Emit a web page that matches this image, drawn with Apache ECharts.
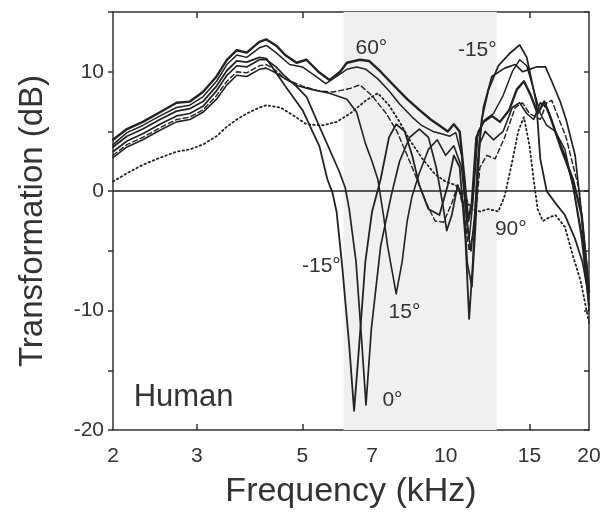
<!DOCTYPE html>
<html><head><meta charset="utf-8">
<script src="https://cdn.jsdelivr.net/npm/echarts@6/dist/echarts.min.js"></script>
<style>html,body{margin:0;padding:0;background:#fff}#c{width:611px;height:518px}</style>
</head><body><div id="c"></div>
<script>
// ---- data (frequency kHz, transformation dB) ----
const xTicks = [2, 3, 5, 7, 10, 15, 20];
const yLabelTicks = [-20, -10, 0, 10];
const shadeBand = [6.1, 12.8];

const curveM15 = [[2.0,3.7],[2.14,4.6],[2.31,5.2],[2.51,6.0],[2.72,6.7],[2.9,6.9],[3.09,7.5],[3.3,8.8],[3.47,10.1],[3.64,10.9],[3.82,10.8],[4.06,11.2],[4.2,11.1],[4.32,10.4],[4.6,8.8],[5.0,6.8],[5.43,3.75],[5.64,1.0],[5.78,-0.1],[5.9,-1.75],[6.06,-6.25],[6.27,-12.9],[6.42,-18.4],[6.58,-12.9],[6.78,-5.9],[7.0,-1.75],[7.3,1.0],[7.6,4.5],[7.87,5.6],[8.2,5.0],[8.5,3.0],[8.8,0.5],[9.2,-1.5],[9.7,-2.0],[10.1,0.5],[10.4,3.0],[10.7,2.0],[11.0,-4.0],[11.2,-10.7],[11.4,-6.0],[11.65,2.0],[11.9,6.0],[12.3,8.5],[12.9,10.5],[13.6,11.5],[14.3,12.25],[14.8,11.2],[15.2,9.0],[15.5,7.4],[15.8,2.7],[16.3,0.0],[17.0,-1.0],[17.8,-2.0],[18.7,-4.0],[19.4,-6.0],[20,-9.0]];
const curve0 = [[2.0,3.3],[2.14,4.2],[2.31,4.8],[2.51,5.6],[2.72,6.3],[2.9,6.5],[3.09,7.1],[3.3,8.4],[3.47,9.7],[3.64,10.5],[3.82,10.4],[4.06,11.0],[4.2,11.0],[4.4,10.4],[4.6,9.6],[4.85,8.8],[5.1,7.9],[5.43,5.4],[5.7,3.5],[5.98,1.6],[6.15,0.3],[6.27,-1.5],[6.48,-5.9],[6.67,-12.9],[6.8,-17.9],[6.98,-11.5],[7.3,-4.6],[7.68,-0.4],[8.0,2.5],[8.4,4.5],[8.8,5.2],[9.2,4.5],[9.55,2.0],[9.85,-1.0],[10.05,-3.3],[10.3,-2.0],[10.6,0.5],[10.9,-1.0],[11.1,-6.0],[11.35,-8.0],[11.55,-3.0],[11.77,4.0],[12.0,7.0],[12.5,9.6],[13.3,10.3],[14.0,10.6],[14.5,10.0],[15.0,10.2],[15.5,10.4],[16.2,10.4],[16.7,9.2],[17.4,7.5],[17.9,6.0],[18.7,3.0],[19.3,-2.0],[20,-8.0]];
const curve15 = [[2.0,2.8],[2.14,3.7],[2.31,4.3],[2.51,5.1],[2.72,5.8],[2.9,6.0],[3.09,6.6],[3.3,7.7],[3.47,8.9],[3.64,9.7],[3.82,9.6],[4.06,10.2],[4.2,10.3],[4.4,9.9],[4.6,9.4],[4.9,8.8],[5.25,8.5],[5.7,8.2],[6.2,7.7],[6.5,6.6],[6.78,4.0],[7.0,2.5],[7.2,1.0],[7.4,-2.0],[7.55,-4.6],[7.87,-8.6],[8.1,-5.9],[8.3,-2.5],[8.5,-0.4],[8.8,1.5],[9.2,3.5],[9.6,4.3],[10.0,3.0],[10.4,3.8],[10.8,2.0],[11.1,-3.0],[11.3,-5.0],[11.5,-2.0],[11.8,4.0],[12.1,5.0],[12.6,4.3],[13.2,5.0],[13.8,7.0],[14.3,7.4],[14.8,6.5],[15.3,6.0],[15.8,7.4],[16.3,7.0],[17.0,5.0],[17.8,3.0],[18.5,0.5],[19.3,-4.0],[20,-9.5]];
const curve30 = [[2.0,3.0],[2.14,3.9],[2.31,4.5],[2.51,5.3],[2.72,6.0],[2.9,6.2],[3.09,6.8],[3.3,8.0],[3.47,9.2],[3.64,10.0],[3.82,9.9],[4.06,10.5],[4.2,10.6],[4.4,10.1],[4.6,9.4],[5.0,8.8],[5.4,8.4],[5.8,8.3],[6.3,8.6],[6.6,8.9],[7.0,8.0],[7.5,6.5],[7.9,5.0],[8.3,3.0],[8.7,1.0],[9.1,-1.0],[9.5,-2.5],[9.9,-2.6],[10.3,-1.0],[10.6,0.5],[10.9,-1.5],[11.2,-5.0],[11.5,-3.0],[11.8,2.0],[12.2,3.0],[12.7,2.7],[13.3,4.5],[14.0,7.0],[14.5,7.4],[15.0,6.5],[15.8,6.0],[16.3,7.4],[16.7,7.6],[17.9,4.5],[19.1,0.0],[20,-9.0]];
const curve45 = [[2.0,3.9],[2.14,4.9],[2.31,5.5],[2.51,6.3],[2.72,7.0],[2.9,7.2],[3.09,7.9],[3.3,9.2],[3.47,10.6],[3.64,11.4],[3.82,11.2],[4.06,12.0],[4.2,12.2],[4.4,11.6],[4.7,10.6],[5.0,10.4],[5.3,9.7],[5.6,9.0],[5.9,9.6],[6.2,10.2],[6.5,10.4],[6.8,10.2],[7.2,9.4],[7.6,8.4],[8.0,7.3],[8.5,6.2],[8.9,5.5],[9.4,5.0],[9.8,4.8],[10.2,4.6],[10.5,4.9],[10.8,3.0],[11.0,-1.0],[11.2,-4.0],[11.4,-1.0],[11.7,5.0],[12.1,6.0],[12.6,6.5],[13.2,8.0],[13.8,10.0],[14.3,11.0],[14.8,10.5],[15.3,8.5],[15.8,6.5],[16.3,5.5],[17.0,5.0],[17.8,3.5],[18.6,0.0],[19.4,-4.0],[20,-10.0]];
const curve60 = [[2.0,4.3],[2.14,5.2],[2.31,5.8],[2.51,6.6],[2.72,7.4],[2.9,7.5],[3.09,8.3],[3.3,9.6],[3.47,11.0],[3.64,11.8],[3.82,11.6],[4.06,12.5],[4.2,12.7],[4.4,12.2],[4.6,11.4],[4.86,10.75],[5.1,11.0],[5.4,10.0],[5.7,9.3],[6.0,10.0],[6.2,10.75],[6.6,11.0],[6.9,10.9],[7.3,10.0],[7.8,8.8],[8.3,7.7],[8.8,6.8],[9.3,6.0],[9.7,5.5],[10.1,5.0],[10.4,5.6],[10.7,5.0],[10.95,1.0],[11.15,-2.5],[11.35,-1.0],[11.6,4.5],[12.0,5.8],[12.5,6.3],[13.0,5.8],[13.6,6.8],[14.1,8.5],[14.6,9.2],[15.1,8.0],[15.6,6.5],[16.1,7.5],[16.6,6.2],[17.5,3.5],[18.5,1.0],[19.3,-2.0],[20,-8.5]];
const curve90 = [[2.0,0.8],[2.14,1.5],[2.31,2.2],[2.51,2.8],[2.72,3.3],[2.9,3.5],[3.09,3.9],[3.3,4.6],[3.47,5.4],[3.64,6.0],[3.82,6.5],[4.06,7.0],[4.2,7.2],[4.5,7.0],[4.8,6.3],[5.1,5.6],[5.5,5.5],[5.9,5.8],[6.3,6.5],[6.8,7.6],[7.2,8.2],[7.6,7.2],[8.0,5.8],[8.4,4.3],[8.9,2.8],[9.5,1.4],[10.0,0.8],[10.5,0.5],[11.0,-0.5],[11.3,-1.5],[11.8,-1.7],[12.3,-1.5],[12.9,-1.7],[13.3,-0.4],[13.8,2.5],[14.2,5.0],[14.6,6.2],[15.0,3.8],[15.3,1.0],[15.6,-1.5],[16.0,-2.5],[16.5,-2.2],[17.0,-2.0],[17.8,-3.0],[18.5,-5.4],[19.2,-7.5],[20,-11.0]];

const FONT = 'Liberation Sans, Arial, Helvetica, sans-serif';
const INK = '#222';

function curveSeries(name, data, width, type, labels) {
  return {
    name, type: 'line', data, z: 3, symbol: 'none', smooth: false,
    lineStyle: { color: INK, width, type, cap: 'round', join: 'round' },
    markPoint: labels ? {
      symbol: 'circle', symbolSize: 0, silent: true,
      data: labels.map(l => ({ coord: l.coord, label: { show: true, formatter: l.text, position: 'inside',
        align: l.align || 'center', color: '#333', fontSize: l.size || 21, fontFamily: FONT } }))
    } : undefined
  };
}

const chart = echarts.init(document.getElementById('c'), null, { renderer: 'canvas' });
const axisLineStyle = { color: '#333', width: 1.5 };
chart.setOption({
  animation: false,
  backgroundColor: '#fff',
  grid: { left: 113, right: 22, top: 12, bottom: 88, containLabel: false },
  xAxis: [{
    type: 'log', logBase: 10, min: 2, max: 20, position: 'bottom',
    name: 'Frequency (kHz)', nameLocation: 'middle', nameGap: 45,
    nameTextStyle: { fontSize: 34, color: '#333', fontFamily: FONT },
    axisLine: { show: true, onZero: false, lineStyle: axisLineStyle },
    axisTick: { show: true, inside: true, length: 6, lineStyle: axisLineStyle, customValues: xTicks.slice(1, -1) },
    axisLabel: { customValues: xTicks, formatter: v => String(Math.round(v)), fontSize: 21, color: '#333', fontFamily: FONT, margin: 16 },
    splitLine: { show: false }, minorTick: { show: false }
  }, {
    type: 'log', logBase: 10, min: 2, max: 20, position: 'top',
    axisLine: { show: true, onZero: false, lineStyle: axisLineStyle },
    axisTick: { show: true, inside: true, length: 6, lineStyle: axisLineStyle, customValues: xTicks.slice(1, -1) },
    axisLabel: { show: false }, splitLine: { show: false }
  }],
  yAxis: [{
    type: 'value', min: -20, max: 15, interval: 5, position: 'left',
    name: 'Transformation (dB)', nameLocation: 'middle', nameGap: 64, nameRotate: 90,
    nameTextStyle: { fontSize: 33, color: '#333', fontFamily: FONT },
    axisLine: { show: true, onZero: false, lineStyle: axisLineStyle },
    axisTick: { show: true, inside: false, length: 5, lineStyle: axisLineStyle },
    axisLabel: { formatter: v => (yLabelTicks.includes(v) ? String(v) : ''), fontSize: 21, color: '#333', fontFamily: FONT, margin: 9 },
    splitLine: { show: false }
  }, {
    type: 'value', min: -20, max: 15, interval: 5, position: 'right',
    axisLine: { show: true, onZero: false, lineStyle: axisLineStyle },
    axisTick: { show: true, inside: true, length: 5, lineStyle: axisLineStyle },
    axisLabel: { show: false }, splitLine: { show: false }
  }],
  series: [
    { type: 'line', data: [], z: 1, silent: true,
      markArea: { silent: true, itemStyle: { color: '#f0f0f0' }, data: [[{ xAxis: shadeBand[0] }, { xAxis: shadeBand[1] }]] },
      markLine: { silent: true, symbol: 'none', label: { show: false }, lineStyle: { color: '#222', width: 1.5, type: 'solid' }, data: [{ yAxis: 0 }] } },
    curveSeries('-15°', curveM15, 1.8, 'solid', [{ text: '-15°', coord: [5.48, -6.3] }, { text: '-15°', coord: [11.65, 11.8] }]),
    curveSeries('0°', curve0, 1.7, 'solid', [{ text: '0°', coord: [7.73, -17.5] }]),
    curveSeries('15°', curve15, 1.6, 'solid', [{ text: '15°', coord: [8.19, -10.1] }]),
    curveSeries('30°', curve30, 1.4, [5, 3]),
    curveSeries('45°', curve45, 1.5, 'solid'),
    curveSeries('60°', curve60, 2.4, 'solid', [{ text: '60°', coord: [6.98, 12.0] }, { text: 'Human', coord: [2.21, -17.3], align: 'left', size: 31 }]),
    curveSeries('90°', curve90, 1.8, [1.5, 3], [{ text: '90°', coord: [13.7, -3.2] }])
  ]
});
</script></body></html>
